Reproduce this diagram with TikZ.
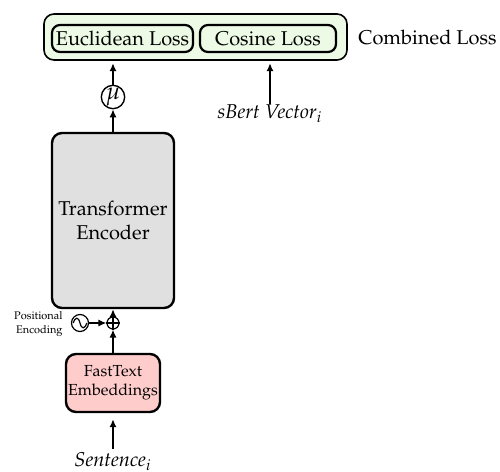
\documentclass[tikz,border=0pt]{standalone}
\usepackage[T1]{fontenc}
\usepackage{mathpazo}
\usetikzlibrary{arrows.meta}
\definecolor{lossgreen}{HTML}{EDFBE6}
\definecolor{encgray}{HTML}{E0E0E0}
\definecolor{embpink}{HTML}{FFCCCC}
\tikzset{
  arr/.style={-{Latex[length=4pt,width=3.6pt]}, line width=0.9pt},
  lossbox/.style={draw, rounded corners=4pt, line width=1.1pt, fill=lossgreen, inner sep=0pt, minimum height=13.5pt, font=\normalsize},
  bigbox/.style={draw, rounded corners=5pt, line width=1.2pt, align=center, inner sep=0pt},
}
\begin{document}
\begin{tikzpicture}[x=0.5pt,y=-0.5pt]
  \useasboundingbox (0,0) rectangle (500,472);

  % combined loss container
  \node[draw, rounded corners=5pt, line width=0.8pt, fill=lossgreen, minimum width=151.5pt, minimum height=23pt, inner sep=0pt] (outer) at (195.5,37) {};
  \node[lossbox, minimum width=70.5pt] (euc) at (122.5,38.5) {Euclidean Loss};
  \node[lossbox, minimum width=68pt] (cos) at (268,38.5) {Cosine Loss};
  \node[anchor=west, inner sep=0pt] (comb) at (358,37) {Combined Loss};

  % mean pooling
  \node[draw, circle, line width=0.7pt, minimum size=9.5pt, inner sep=0pt, font=\large] (mu) at (113,97) {$\mu$};
  \node[inner sep=0pt, anchor=north] (sbert) at (270,104) {\textit{sBert Vector}$_i$};

  % encoder
  \node[bigbox, fill=encgray, minimum width=61pt, minimum height=87.5pt] (enc) at (113,220.5) {Transformer\\Encoder};

  % positional encoding
  \node[draw, circle, line width=0.6pt, minimum size=6pt, inner sep=0pt] (plus) at (113,323) {};
  \draw[line width=0.6pt] (plus.north) -- (plus.south) (plus.west) -- (plus.east);
  \node[draw, circle, line width=0.6pt, minimum size=8.5pt, inner sep=0pt] (sine) at (80,323) {};
  \draw[line width=0.6pt] ([xshift=-3.4pt]sine.center) .. controls ([xshift=-2.3pt,yshift=3.2pt]sine.center) and ([xshift=-0.8pt,yshift=3.2pt]sine.center) .. (sine.center)
    .. controls ([xshift=0.8pt,yshift=-3.2pt]sine.center) and ([xshift=2.3pt,yshift=-3.2pt]sine.center) .. ([xshift=3.4pt]sine.center);
  \node[anchor=east, align=right, inner sep=0pt, font=\fontsize{5.5}{7}\selectfont] (pos) at (63,324) {Positional\\Encoding};

  % embeddings
  \node[bigbox, fill=embpink, minimum width=47pt, minimum height=29pt, font=\footnotesize] (emb) at (113,383) {FastText\\Embeddings};
  \node[inner sep=0pt, anchor=center] (sent) at (113,462) {\textit{Sentence}$_i$};

  % connectors
  \draw[arr, shorten <=2pt, shorten >=3pt] (sent.north) -- (emb.south);
  \draw[arr] (emb.north) -- (plus.south);
  \draw[arr] (sine.east) -- (plus.west);
  \draw[arr] (plus.north) -- (enc.south);
  \draw[arr] (enc.north) -- (mu.south);
  \draw[arr, shorten >=1.2pt] (mu.north) -- (mu |- outer.south);
  \draw[arr, shorten >=1.2pt] (sbert.north) -- (sbert |- outer.south);
\end{tikzpicture}
\end{document}
